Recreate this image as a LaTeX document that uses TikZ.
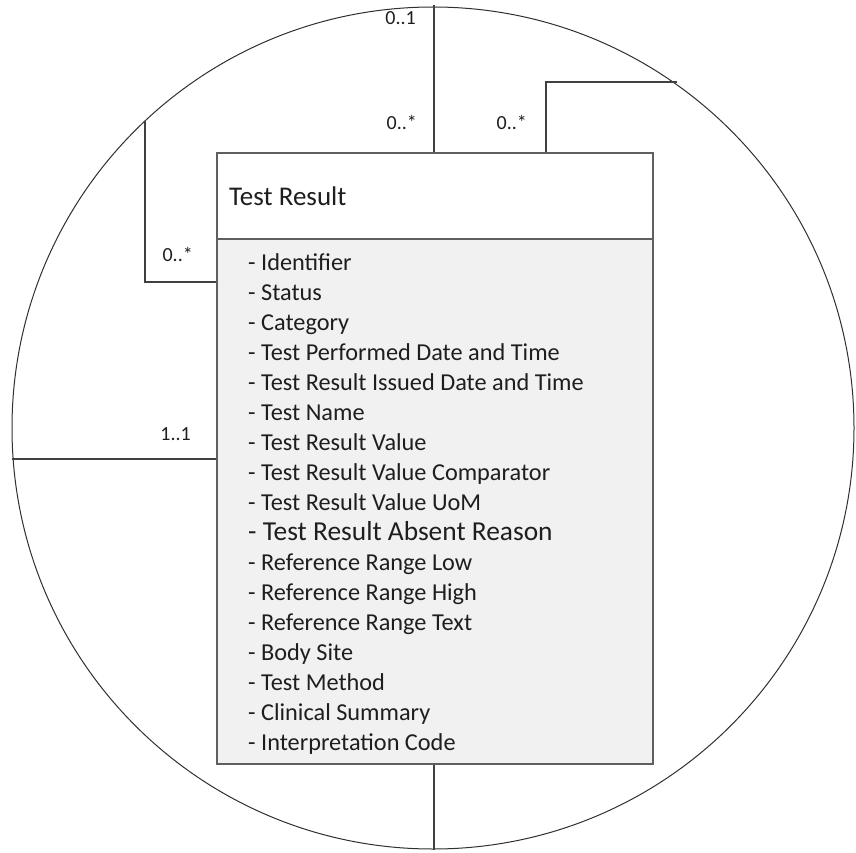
\documentclass[tikz,border=0pt]{standalone}
\usepackage{fontspec}
\setmainfont{Carlito}
\definecolor{boxgray}{HTML}{5F5F5F}
\definecolor{linegray}{HTML}{404040}
\definecolor{circ}{HTML}{303030}
\definecolor{bodygray}{HTML}{F1F1F1}
\definecolor{txt}{HTML}{1E1E1E}
\begin{document}
\begin{tikzpicture}[x=1pt,y=-1pt,
  box/.style={draw=boxgray, line width=1.4pt, inner sep=0pt},
  conn/.style={draw=linegray, line width=1.3pt},
  mult/.style={font=\fontsize{20}{24}\selectfont, text=txt, anchor=base east, inner sep=0pt},
  attr/.style={font=\fontsize{24.3}{29}\selectfont, text=txt, anchor=base west, inner sep=0pt},
  bigattr/.style={font=\fontsize{27.4}{32}\selectfont, text=txt, anchor=base west, inner sep=0pt}]
\useasboundingbox (0,0) rectangle (856,853);
\node[circle, draw=circ, line width=1pt, minimum size=842pt, inner sep=0pt] (circ) at (433,428) {};
\node[box, fill=white, minimum width=436pt, minimum height=86pt] (hdr) at (435,196) {};
\node[box, fill=bodygray, minimum width=436pt, minimum height=525pt] (body) at (435,501.5) {};
\node[font=\fontsize{27}{32}\selectfont, text=txt, anchor=base west, inner sep=0pt] (title) at (229,205) {Test Result};

\coordinate (ctop) at (434,5);
\coordinate (cright) at (677,82);
\coordinate (cleft) at (145,121);
\coordinate (cw) at (12,459);
\coordinate (cbot) at (434,850);
\coordinate (rbend) at (546,82);
\coordinate (lbend) at (145,282);

\draw[conn] (ctop) -- (ctop |- hdr.north);
\draw[conn] (rbend |- hdr.north) -- (rbend) -- (cright);
\draw[conn] (body.west |- lbend) -- (lbend) -- (cleft);
\draw[conn] (cw) -- (cw -| body.west);
\draw[conn] (body.south -| cbot) -- (cbot);

\node[mult] (m1) at (416,25) {0..1};
\node[mult] (m2) at (417,130) {0..*};
\node[mult] (m3) at (527,130) {0..*};
\node[mult] (m4) at (193,261) {0..*};
\node[mult] (m5) at (191,440) {1..1};

\node[attr] (a0) at (248,270) {- Identifier};
\node[attr] (a1) at (248,300) {- Status};
\node[attr] (a2) at (248,330) {- Category};
\node[attr] (a3) at (248,360) {- Test Performed Date and Time};
\node[attr] (a4) at (248,390) {- Test Result Issued Date and Time};
\node[attr] (a5) at (248,420) {- Test Name};
\node[attr] (a6) at (248,450) {- Test Result Value};
\node[attr] (a7) at (248,480) {- Test Result Value Comparator};
\node[attr] (a8) at (248,510) {- Test Result Value UoM};
\node[bigattr] (a9) at (248,540) {- Test Result Absent Reason};
\node[attr] (a10) at (248,570) {- Reference Range Low};
\node[attr] (a11) at (248,600) {- Reference Range High};
\node[attr] (a12) at (248,630) {- Reference Range Text};
\node[attr] (a13) at (248,660) {- Body Site};
\node[attr] (a14) at (248,690) {- Test Method};
\node[attr] (a15) at (248,720) {- Clinical Summary};
\node[attr] (a16) at (248,750) {- Interpretation Code};
\end{tikzpicture}
\end{document}
